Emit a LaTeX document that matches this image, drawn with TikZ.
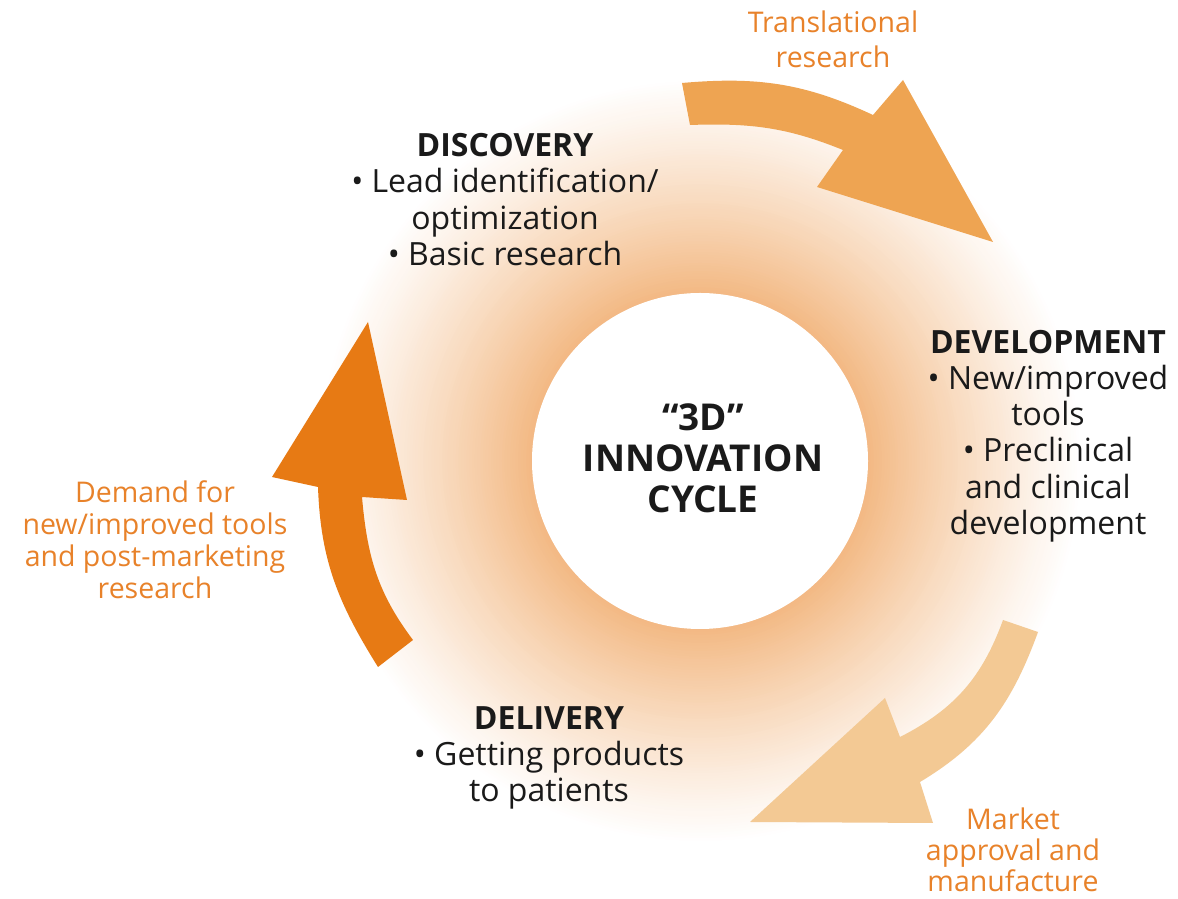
\documentclass[tikz,border=0pt]{standalone}
\usepackage{fontspec}
\setmainfont{Open Sans}
\definecolor{ringor}{HTML}{F1B074}
\definecolor{arrtop}{HTML}{EEA452}
\definecolor{arrright}{HTML}{F3C994}
\definecolor{arrleft}{HTML}{E77A14}
\definecolor{labor}{HTML}{E8822A}
\definecolor{darktext}{HTML}{1A1A1A}
\tikzset{
  stagetext/.style={align=center, text=darktext, font=\fontsize{32}{36.3}\selectfont, inner sep=0pt},
  flowlabel/.style={align=center, text=labor, font=\fontsize{28.5}{32}\selectfont, inner sep=0pt},
  centertext/.style={align=center, text=darktext, font=\bfseries\fontsize{37}{41}\selectfont, inner sep=0pt},
  blockarrow/.style={draw=none}
}
\begin{document}
\begin{tikzpicture}[x=1pt,y=1pt]
\useasboundingbox (0,0) rectangle (1178,899);
\fill[white] (0,0) rectangle (1178,899);
% ring with fading gradient
\coordinate (c) at (700,438);
\foreach \i in {1,...,80}{
  \pgfmathsetmacro\rr{385-\i*2.71}
  \pgfmathtruncatemacro\pp{\i*(70+0.25*\i)/80}
  \fill[ringor!\pp!white] (c) circle (\rr pt);
}
\fill[white] (c) circle (168pt);
% top arrow: translational research
\fill[arrtop] (682,816) to[out=5,in=155] (873,784) -- (903,819) -- (993,657)
  -- (817,712) -- (843,749) to[out=158,in=2] (690,774) -- cycle;
% right arrow: market approval
\fill[arrright] (1003,279) to[out=-110,in=27] (900,162) -- (885,201) -- (750,77)
  -- (933,76) -- (920,117) to[out=31,in=-110] (1038,267) -- cycle;
% left arrow: demand
\fill[arrleft] (368,577) -- (272,422) -- (318,412) to[out=-88,in=122] (378,232)
  -- (413,259) to[out=127,in=-85] (362,402) -- (407,399) -- cycle;
% texts
\node[centertext] (core) at (703,441) {“3D”\\INNOVATION\\CYCLE};
\node[stagetext] (disc) at (505,699.5) {\textbf{DISCOVERY}\\• Lead identification/\\optimization\\• Basic research};
\node[stagetext] (dev) at (1048,463) {\textbf{DEVELOPMENT}\\• New/improved\\tools\\• Preclinical\\and clinical\\development};
\node[stagetext] (deliv) at (549,141) {\textbf{DELIVERY}\\• Getting products\\to patients};
\node[flowlabel, font=\fontsize{28.5}{35}\selectfont] (trans) at (833,859.5) {Translational\\research};
\node[flowlabel] (demand) at (155,359) {Demand for\\new/improved tools\\and post-marketing\\research};
\node[flowlabel, font=\fontsize{28.5}{31}\selectfont] (market) at (1013,49) {Market\\approval and\\manufacture};
\end{tikzpicture}
\end{document}
